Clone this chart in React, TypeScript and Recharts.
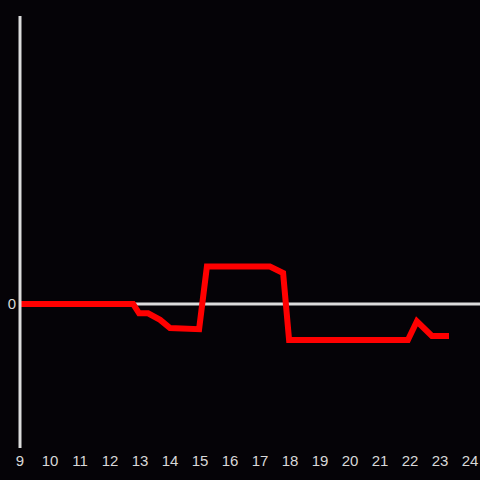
import React from 'react';
import { LineChart, Line, XAxis, YAxis, ReferenceLine } from 'recharts';

// hours of day (decimal) and values
const hours = [9, 12.77, 12.97, 13.27, 13.67, 14, 14.97, 15.23, 17.33, 17.77, 17.97, 21.93, 22.23, 22.73, 23.3];
const values = [0, 0, -0.065, -0.065, -0.11, -0.167, -0.175, 0.26, 0.26, 0.215, -0.25, -0.25, -0.12, -0.222, -0.222];
const xTicks = [9, 10, 11, 12, 13, 14, 15, 16, 17, 18, 19, 20, 21, 22, 23, 24];
const yTicks = [0];

const data = hours.map((h, i) => ({ hour: h, value: values[i] }));

const tickStyle = { fill: '#d8d8d8', fontSize: 15, fontFamily: 'Liberation Sans, Arial, sans-serif' };

const App: React.FC = () => {
  return (
    <div style={{ position: 'fixed', top: 0, left: 0, width: 480, height: 480, background: '#050307' }}>
      <LineChart
        width={480}
        height={480}
        data={data}
        margin={{ top: 16, right: 0, bottom: 0, left: 0 }}
      >
        <XAxis
          dataKey="hour"
          type="number"
          domain={[9, 24.3333]}
          ticks={xTicks}
          height={32}
          axisLine={false}
          tickLine={false}
          tick={tickStyle}
          fontSize={15}
          tickMargin={1}
          interval={0}
          allowDataOverflow
        />
        <YAxis
          type="number"
          domain={[-1, 2]}
          ticks={yTicks}
          width={20}
          tickLine={false}
          tickSize={2}
          axisLine={{ stroke: '#dcdcdc', strokeWidth: 3 }}
          tick={tickStyle}
          fontSize={15}
        />
        <ReferenceLine y={0} stroke="#dcdcdc" strokeWidth={3} />
        <Line
          type="linear"
          dataKey="value"
          stroke="#ff0000"
          strokeWidth={6}
          dot={false}
          isAnimationActive={false}
        />
      </LineChart>
    </div>
  );
};

export default App;
